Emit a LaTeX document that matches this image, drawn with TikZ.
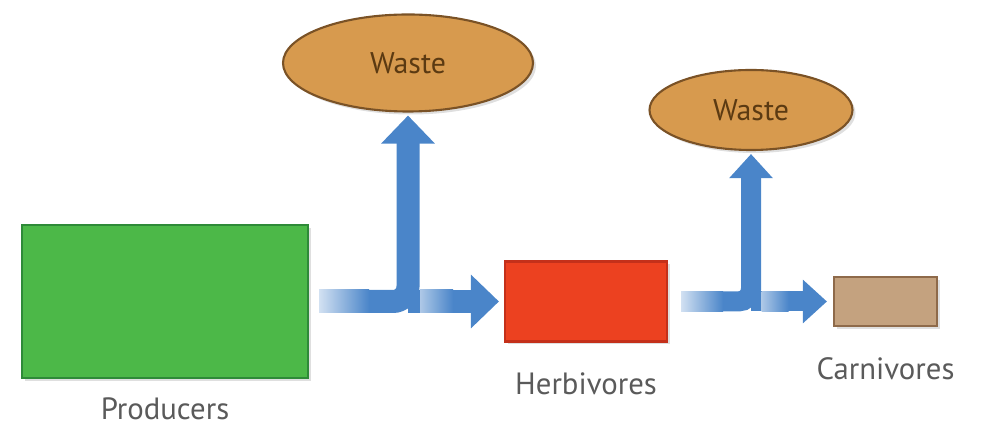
\documentclass[tikz,border=0pt]{standalone}
\usepackage{fontspec}
\setmainfont{PT Sans}
\usepackage{xcolor}
\usepackage{tikz}
\usetikzlibrary{positioning,calc,shapes,arrows.meta,shadows}

\definecolor{prodgreen}{HTML}{4CB848}
\definecolor{prodedge}{HTML}{2E8A38}
\definecolor{herbred}{HTML}{EC4120}
\definecolor{herbedge}{HTML}{C4301A}
\definecolor{carntan}{HTML}{C4A27F}
\definecolor{carnedge}{HTML}{8E6A4A}
\definecolor{wastefill}{HTML}{D79A4E}
\definecolor{wasteedge}{HTML}{7A5226}
\definecolor{wastetext}{HTML}{5B3A12}
\definecolor{flowblue}{HTML}{4A85C9}
\definecolor{labelgray}{HTML}{5A5A5A}

\tikzset{
  box/.style={draw, line width=1.2pt, inner sep=0pt,
    drop shadow={opacity=.25, shadow xshift=.06cm, shadow yshift=-.06cm}},
  waste/.style={ellipse, draw=wasteedge, fill=wastefill, line width=1.2pt,
    text=wastetext, font=\fontsize{17}{20}\selectfont, inner sep=0pt,
    drop shadow={opacity=.25, shadow xshift=.06cm, shadow yshift=-.06cm}},
  lbl/.style={text=labelgray, font=\fontsize{17.5}{20}\selectfont, inner sep=0pt},
  flow/.style={draw=flowblue, line width=.46cm, -{Triangle[width=1.04cm,length=.56cm]}},
  flowsmall/.style={draw=flowblue, line width=.40cm, -{Triangle[width=.84cm,length=.48cm]}},
}

\begin{document}
\begin{tikzpicture}
\useasboundingbox (0,0) rectangle (19.64,8.58);
% levels
\node(P)  [box, draw=prodedge, fill=prodgreen, minimum width=5.72cm, minimum height=3.06cm] at (3.3,2.55)  {};
\node(H)  [box, draw=herbedge, fill=herbred, minimum width=3.24cm, minimum height=1.6cm]    at (11.72,2.55) {};
\node(C)  [box, draw=carnedge, fill=carntan, minimum width=2.06cm, minimum height=.98cm]    at (17.71,2.55) {};
\node(W1) [waste, minimum width=5.0cm, minimum height=1.94cm] at (8.16,7.32) {Waste};
\node(W2) [waste, minimum width=4.06cm, minimum height=1.6cm] at (15.02,6.38) {Waste};
% labels
\node(Plbl) [lbl, below=.36cm of P] {Producers};
\node(Hlbl) [lbl, below=.6cm of H]  {Herbivores};
\node(Clbl) [lbl, below=.6cm of C]  {Carnivores};
% flows
\coordinate (j1) at (P.east -| W1.south);
\coordinate (j2) at (H.east -| W2.south);
\draw[flow, rounded corners=.3cm] ($(P.east)+(.2,0)$) -- (j1) -- ($(W1.south)+(0,-.06)$);
\draw[flow] (j1) -- ($(H.west)+(-.1,0)$);
\shade[left color=flowblue!25, right color=flowblue] ($(P.east)+(.2,-.23)$) rectangle ($(P.east)+(1.2,.23)$);
\shade[left color=flowblue!45, right color=flowblue] ($(j1)+(.24,-.23)$) rectangle ($(j1)+(.9,.23)$);
\draw[flowsmall, rounded corners=.25cm] ($(H.east)+(.26,0)$) -- (j2) -- ($(W2.south)+(0,-.06)$);
\draw[flowsmall] (j2) -- ($(C.west)+(-.12,0)$);
\shade[left color=flowblue!25, right color=flowblue] ($(H.east)+(.26,-.2)$) rectangle ($(H.east)+(1.1,.2)$);
\shade[left color=flowblue!45, right color=flowblue] ($(j2)+(.21,-.2)$) rectangle ($(j2)+(.75,.2)$);
\end{tikzpicture}
\end{document}
